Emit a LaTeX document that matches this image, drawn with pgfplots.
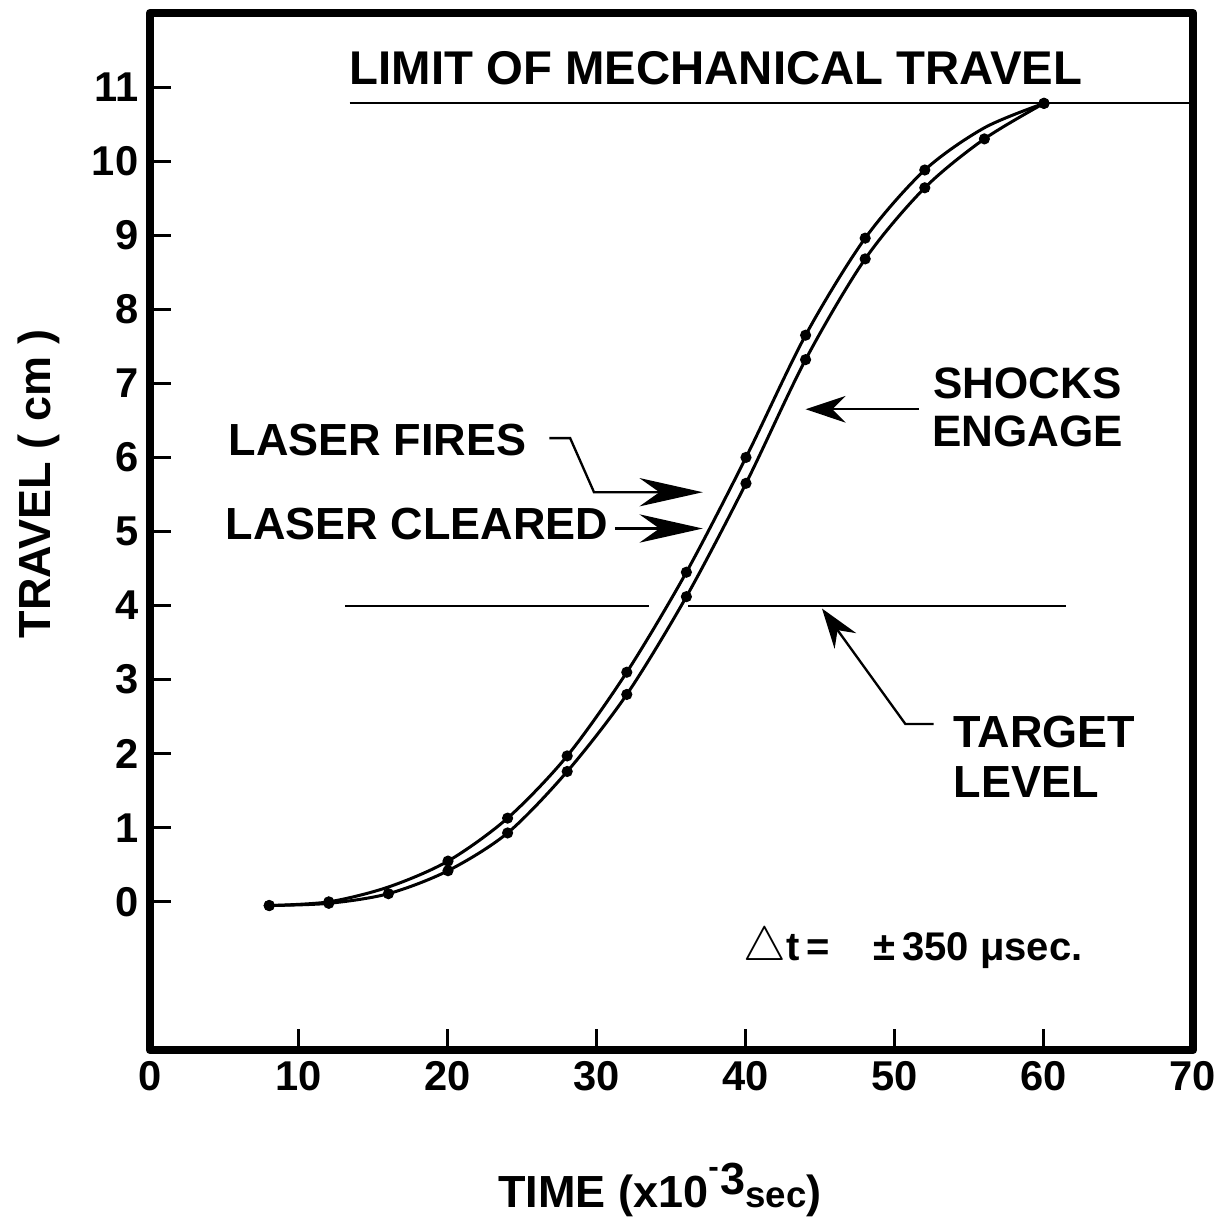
\documentclass[border=0pt]{standalone}
\usepackage{fontspec}
\setmainfont{Liberation Sans}
\usepackage{pgfplots}
\pgfplotsset{compat=1.18}
\usetikzlibrary{arrows.meta}

\begin{document}
\begin{tikzpicture}
\path[use as bounding box] (-45pt,-50.7pt) rectangle (322.5pt,315pt);
\begin{axis}[
  at={(0,0)}, anchor=south west,
  scale only axis, width=312.9pt, height=311.1pt,
  xmin=0, xmax=70, ymin=-2, ymax=12,
  xtick={0,10,...,70}, ytick={0,1,...,11},
  tick pos=left, tick align=inside,
  major tick length=6.3pt,
  tick style={line width=0.9pt, black},
  axis line style={line width=2.6pt, line join=round},
  ticklabel style={font=\fontsize{12.5}{12.5}\selectfont\bfseries},
  /pgf/number format/assume math mode=true,
  xlabel={TIME (x10\raisebox{0.55ex}{\textsuperscript{-}3}{\fontsize{11}{11}\selectfont sec})},
  xlabel style={at={(axis description cs:0.489,-0.135)}, anchor=center, font=\fontsize{13.5}{14}\selectfont\bfseries},
  ylabel={TRAVEL ( cm )},
  ylabel style={at={(axis description cs:-0.107,0.546)}, anchor=center, font=\fontsize{13.5}{14}\selectfont\bfseries},
  clip=false,
]
% limit and target lines
\addplot[black, line width=0.6pt] coordinates {(13.4,10.78) (70,10.78)};
\addplot[black, line width=0.6pt] coordinates {(13.1,4.0) (33.5,4.0)};
\addplot[black, line width=0.6pt] coordinates {(36.1,4.0) (61.5,4.0)};
% upper curve
\addplot[black, line width=0.9pt, smooth, mark=*, mark size=1.2pt,
  mark indices={1,2,4,5,6,7,8,9,10,11,12,14}] coordinates {
  (8,-0.05) (12,0.0) (16,0.2) (20,0.55) (24,1.13) (28,1.97) (32,3.1)
  (36,4.45) (40,6.0) (44,7.65) (48,8.96) (52,9.88) (56,10.45) (60,10.78)};
% lower curve
\addplot[black, line width=0.9pt, smooth, mark=*, mark size=1.2pt] coordinates {
  (8,-0.05) (12,-0.02) (16,0.11) (20,0.42) (24,0.93) (28,1.76) (32,2.8)
  (36,4.12) (40,5.65) (44,7.32) (48,8.68) (52,9.64) (56,10.3) (60,10.78)};

% texts
\node[anchor=west, inner sep=0pt, font=\fontsize{14.2}{14}\selectfont\bfseries] at (axis cs:13.36,11.26) {LIMIT OF MECHANICAL TRAVEL};
\node[anchor=west, inner sep=0pt, font=\fontsize{13.5}{14}\selectfont\bfseries] at (axis cs:5.25,6.23) {LASER FIRES};
\node[anchor=west, inner sep=0pt, font=\fontsize{13.5}{14}\selectfont\bfseries] at (axis cs:5.05,5.10) {LASER CLEARED};
\node[align=center, inner sep=0pt, font=\fontsize{13.2}{14.4}\selectfont\bfseries] at (axis cs:58.9,6.68) {SHOCKS\\ENGAGE};
\node[align=left, anchor=west, inner sep=0pt, font=\fontsize{13.5}{15}\selectfont\bfseries] at (axis cs:53.9,1.96) {TARGET\\LEVEL};
\node[anchor=west, inner sep=0pt, font=\fontsize{12}{12}\selectfont\bfseries] at (axis cs:39.8,-0.63) {{\Large$\triangle$}t\,=\hspace{1.1em}±\,350 μsec.};

% arrows
\draw[line width=0.7pt, -{Stealth[length=19pt,width=8.5pt,inset=6pt]}]
  (axis cs:26.8,6.26) -- (axis cs:28.2,6.26) -- (axis cs:29.8,5.53) -- (axis cs:37.1,5.53);
\draw[line width=0.7pt, -{Stealth[length=19pt,width=8.5pt,inset=6pt]}]
  (axis cs:31.2,5.04) -- (axis cs:37.1,5.04);
\draw[line width=0.7pt, -{Stealth[length=12pt,width=8pt,inset=4pt]}]
  (axis cs:51.6,6.65) -- (axis cs:44.0,6.65);
\draw[line width=0.7pt, -{Stealth[length=12pt,width=8pt,inset=4pt]}]
  (axis cs:52.6,2.4) -- (axis cs:50.7,2.4) -- (axis cs:45.1,3.96);
\end{axis}
\end{tikzpicture}
\end{document}
